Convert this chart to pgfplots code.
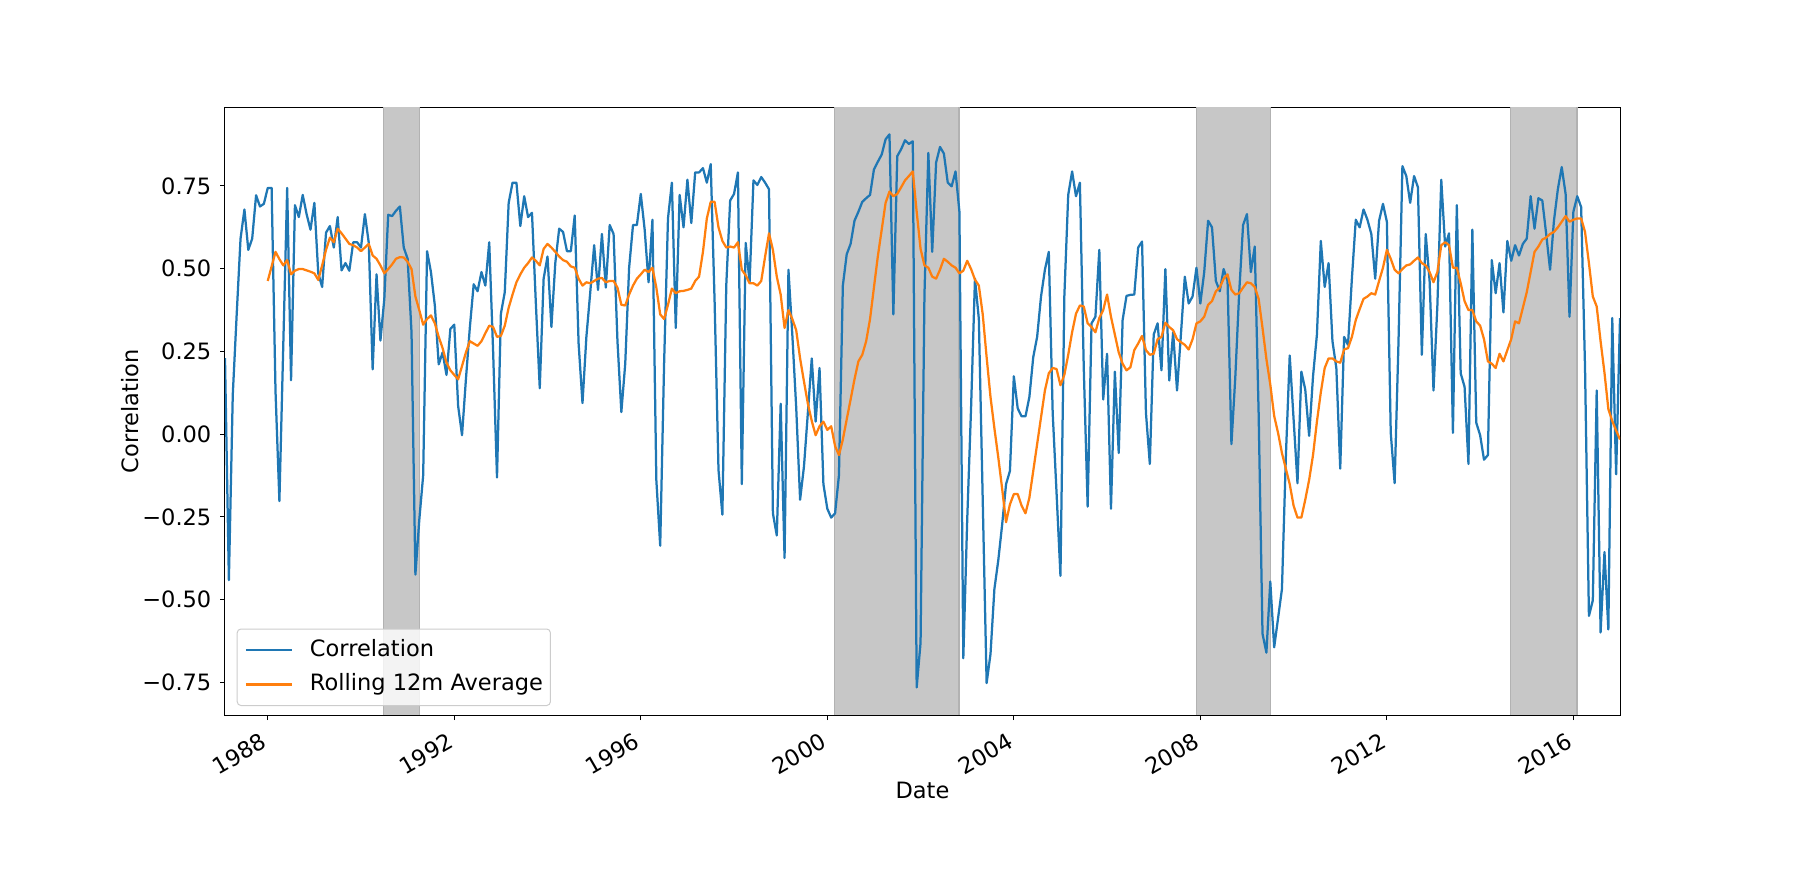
\documentclass[border=0pt]{standalone}
\usepackage{fontspec}
\setmainfont{DejaVu Sans}
\usepackage{pgfplots}
\usepackage{pgfplotstable}
\pgfplotsset{compat=1.18}
\definecolor{mplblue}{HTML}{1F77B4}
\definecolor{mplorange}{HTML}{FF7F0E}

% monthly correlation, Jan 1987 .. Dec 2016 (360 values)
\pgfplotstableread{
c
0.23
-0.441
0.119
0.36
0.591
0.679
0.557
0.591
0.722
0.688
0.696
0.744
0.744
0.13
-0.202
0.27
0.744
0.163
0.692
0.656
0.723
0.665
0.618
0.699
0.486
0.445
0.609
0.629
0.564
0.656
0.495
0.517
0.494
0.580
0.580
0.564
0.665
0.578
0.196
0.483
0.283
0.409
0.663
0.659
0.675
0.688
0.564
0.530
0.308
-0.424
-0.259
-0.124
0.553
0.490
0.389
0.211
0.247
0.179
0.318
0.331
0.085
-0.003
0.166
0.321
0.453
0.432
0.490
0.449
0.580
0.25
-0.131
0.364
0.429
0.699
0.760
0.760
0.629
0.719
0.656
0.669
0.395
0.139
0.470
0.537
0.324
0.517
0.621
0.611
0.553
0.553
0.661
0.274
0.094
0.294
0.429
0.571
0.436
0.605
0.443
0.632
0.605
0.281
0.067
0.213
0.503
0.632
0.632
0.726
0.618
0.459
0.648
-0.138
-0.337
0.213
0.652
0.760
0.321
0.723
0.625
0.769
0.638
0.791
0.791
0.804
0.760
0.816
0.40
-0.108
-0.243
0.45
0.706
0.726
0.791
-0.151
0.578
0.459
0.767
0.753
0.777
0.760
0.740
-0.239
-0.306
0.092
-0.374
0.497
0.30
0.08
-0.198
-0.097
0.065
0.229
0.038
0.200
-0.151
-0.225
-0.252
-0.239
-0.124
0.449
0.544
0.575
0.645
0.672
0.702
0.713
0.723
0.800
0.823
0.845
0.891
0.906
0.362
0.84
0.861
0.888
0.877
0.885
-0.765
-0.63
0.42
0.850
0.551
0.821
0.868
0.848
0.760
0.749
0.794
0.672
-0.677
-0.26
0.08
0.470
0.348
-0.2
-0.752
-0.664
-0.468
-0.381
-0.273
-0.151
-0.111
0.175
0.078
0.054
0.054
0.112
0.233
0.294
0.416
0.497
0.551
0.065
-0.178
-0.428
0.416
0.723
0.794
0.719
0.760
0.200
-0.219
0.335
0.355
0.557
0.105
0.243
-0.225
0.189
-0.057
0.345
0.418
0.421
0.422
0.564
0.582
0.065
-0.090
0.301
0.335
0.193
0.499
0.162
0.308
0.132
0.301
0.476
0.395
0.416
0.503
0.395
0.490
0.645
0.625
0.463
0.432
0.499
0.463
-0.030
0.173
0.429
0.632
0.665
0.490
0.567
0.065
-0.603
-0.660
-0.445
-0.644
-0.556
-0.468
-0.070
0.238
0.045
-0.148
0.189
0.135
-0.005
0.175
0.301
0.584
0.445
0.517
0.281
0.200
-0.104
0.294
0.270
0.470
0.648
0.625
0.679
0.648
0.605
0.470
0.645
0.696
0.642
0.004
-0.148
0.281
0.810
0.780
0.699
0.780
0.746
0.240
0.605
0.463
0.132
0.389
0.769
0.567
0.607
0.004
0.692
0.184
0.143
-0.090
0.618
0.035
-0.003
-0.077
-0.063
0.526
0.426
0.517
0.368
0.584
0.524
0.571
0.540
0.575
0.591
0.719
0.621
0.713
0.706
0.605
0.497
0.645
0.740
0.807
0.726
0.355
0.672
0.719
0.686
0.200
-0.549
-0.502
0.132
-0.599
-0.356
-0.590
0.351
-0.121
0.351
}\corr

% rolling 12m average, Dec 1987 .. Dec 2016
\pgfplotstableread{
c
0.463
0.507
0.551
0.529
0.510
0.526
0.483
0.494
0.499
0.499
0.495
0.491
0.486
0.466
0.510
0.557
0.594
0.580
0.621
0.607
0.591
0.575
0.571
0.564
0.553
0.564
0.575
0.540
0.530
0.510
0.486
0.499
0.513
0.530
0.535
0.534
0.521
0.499
0.416
0.375
0.331
0.348
0.359
0.335
0.294
0.260
0.216
0.193
0.179
0.166
0.206
0.247
0.281
0.274
0.267
0.281
0.305
0.328
0.324
0.294
0.297
0.328
0.382
0.422
0.459
0.483
0.503
0.517
0.534
0.524
0.510
0.560
0.575
0.564
0.551
0.537
0.526
0.521
0.507
0.503
0.470
0.449
0.459
0.456
0.463
0.470
0.472
0.459
0.463
0.463
0.443
0.391
0.389
0.422
0.449
0.470
0.483
0.497
0.490
0.503
0.443
0.362
0.348
0.391
0.440
0.426
0.432
0.433
0.436
0.440
0.463
0.476
0.551
0.652
0.702
0.702
0.625
0.584
0.564
0.567
0.564
0.580
0.497
0.480
0.456
0.456
0.449
0.463
0.537
0.607
0.557
0.476
0.422
0.321
0.375
0.348
0.314
0.229
0.159
0.092
0.040
-0.003
0.024
0.038
0.013
0.024
-0.036
-0.063
-0.016
0.045
0.105
0.166
0.220
0.240
0.281
0.348
0.443
0.537
0.618
0.699
0.733
0.719
0.726
0.746
0.767
0.780
0.794
0.672
0.56
0.510
0.503
0.476
0.470
0.497
0.530
0.521
0.510
0.503
0.486
0.494
0.524
0.499
0.467
0.449
0.362
0.233
0.112
0.018
-0.070
-0.165
-0.266
-0.212
-0.181
-0.181
-0.216
-0.239
-0.192
-0.111
-0.030
0.051
0.132
0.184
0.200
0.197
0.148
0.179
0.240
0.308
0.364
0.389
0.386
0.335
0.324
0.308
0.351
0.375
0.422
0.355
0.301
0.247
0.213
0.193
0.202
0.254
0.274
0.297
0.254
0.240
0.243
0.287
0.294
0.337
0.324
0.314
0.287
0.278
0.270
0.256
0.287
0.335
0.341
0.355
0.391
0.402
0.432
0.443
0.470
0.483
0.436
0.422
0.426
0.443
0.459
0.456
0.445
0.409
0.321
0.227
0.15
0.055
0.004
-0.057
-0.104
-0.151
-0.216
-0.252
-0.252
-0.198
-0.138
-0.063
0.038
0.126
0.200
0.229
0.229
0.220
0.216
0.256
0.260
0.294
0.345
0.378
0.409
0.416
0.426
0.422
0.463
0.503
0.557
0.530
0.497
0.486
0.499
0.510
0.513
0.524
0.534
0.517
0.510
0.490
0.459
0.490
0.571
0.580
0.571
0.503
0.503
0.456
0.402
0.375
0.375
0.341
0.328
0.287
0.220
0.213
0.200
0.243
0.220
0.254
0.287
0.341
0.335
0.382
0.429
0.490
0.551
0.567
0.588
0.594
0.605
0.611
0.625
0.642
0.659
0.642
0.648
0.652
0.652
0.611
0.517
0.416
0.386
0.281
0.186
0.076
0.040
0.011
-0.016
}\roll

\begin{document}
\begin{tikzpicture}
\useasboundingbox (-90pt,-71.52pt) rectangle (630pt,286.08pt);
\begin{axis}[
  at={(0pt,0pt)}, anchor=south west,
  scale only axis, width=558pt, height=243.2pt,
  xmin=0, xmax=359, ymin=-0.849, ymax=0.988,
  xtick={11,59,107,155,203,251,299,347},
  xticklabels={1988,1992,1996,2000,2004,2008,2012,2016},
  ytick={-0.75,-0.5,-0.25,0,0.25,0.5,0.75},
  yticklabels={−0.75,−0.50,−0.25,0.00,0.25,0.50,0.75},
  tick align=outside, major tick length=1.95pt,
  tick style={black, line width=0.4pt},
  axis line style={line width=0.4pt},
  xtick pos=bottom, ytick pos=left,
  font=\fontsize{9}{11}\selectfont,
  ticklabel style={font=\fontsize{9}{11}\selectfont},
  xticklabel style={xshift=-1.8pt, rotate=30, anchor=north east},
  xlabel={Date}, ylabel={Correlation},
  xlabel style={at={(axis description cs:0.5,-0.123)}, anchor=center},
  ylabel style={at={(axis description cs:-0.0683,0.5)}, anchor=center},
  legend cell align=left,
  legend image code/.code={\draw[#1] (0pt,0pt) -- (18.3pt,0pt);},
  legend style={at={(axis description cs:0.0084,0.0151)}, anchor=south west,
    draw=black!20, fill=white, fill opacity=0.8, text opacity=1,
    rounded corners=1.5pt, line width=0.4pt,
    inner xsep=3pt, inner ysep=4.3pt, row sep=5.6pt,
    font=\fontsize{9}{11}\selectfont,
    nodes={inner sep=0pt, text height=6.5pt, text depth=1.7pt},
    /tikz/every odd column/.append style={column sep=6.9pt}},
]
\fill[black!22] (axis cs:40.8,-0.849) rectangle (axis cs:50,0.988);
\fill[black!22] (axis cs:156.8,-0.849) rectangle (axis cs:188.9,0.988);
\fill[black!22] (axis cs:250,-0.849) rectangle (axis cs:269,0.988);
\fill[black!22] (axis cs:330.8,-0.849) rectangle (axis cs:347.9,0.988);
\draw[black!30, line width=0.5pt] (axis cs:40.8,-0.849) -- (axis cs:40.8,0.988) (axis cs:50,-0.849) -- (axis cs:50,0.988);
\draw[black!30, line width=0.5pt] (axis cs:156.8,-0.849) -- (axis cs:156.8,0.988) (axis cs:188.9,-0.849) -- (axis cs:188.9,0.988);
\draw[black!30, line width=0.5pt] (axis cs:250,-0.849) -- (axis cs:250,0.988) (axis cs:269,-0.849) -- (axis cs:269,0.988);
\draw[black!30, line width=0.5pt] (axis cs:330.8,-0.849) -- (axis cs:330.8,0.988) (axis cs:347.9,-0.849) -- (axis cs:347.9,0.988);
\addplot[mplblue, line width=0.9pt, no marks, line join=round] table[x expr=\coordindex, y=c] {\corr};
\addplot[mplorange, line width=0.9pt, no marks, line join=round] table[x expr=\coordindex+11, y=c] {\roll};
\legend{Correlation, Rolling 12m Average}
\end{axis}
\end{tikzpicture}
\end{document}
